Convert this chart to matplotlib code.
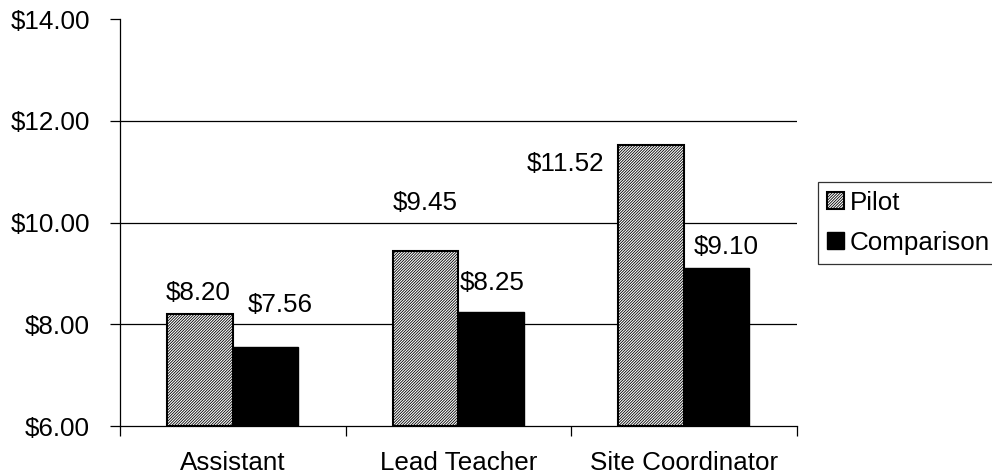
import matplotlib
matplotlib.use("Agg")
import matplotlib.pyplot as plt
import numpy as np

categories = ["Assistant", "Lead Teacher", "Site Coordinator"]
pilot = [8.20, 9.45, 11.52]
comparison = [7.56, 8.25, 9.10]
yticks = [6, 8, 10, 12, 14]

# label placement (style): (x offset from group centre, y position in data units)
pilot_lbl_pos = [(-0.154, 8.61), (-0.149, 10.38), (-0.524, 11.15)]
comp_lbl_pos = [(0.209, 8.38), (0.148, 8.81), (0.19, 9.52)]

FS = 18.7

plt.rcParams['font.family'] = ['Liberation Sans', 'DejaVu Sans']
plt.rcParams['hatch.linewidth'] = 0.6
plt.rcParams['hatch.color'] = '#555555'

fig = plt.figure(figsize=(9.92, 4.76), dpi=100)
ax = fig.add_axes([0.121, 0.105, 0.682, 0.855])

x = np.arange(len(categories))
w = 0.29
b1 = ax.bar(x - w/2, [p - 6 for p in pilot], w, bottom=6, facecolor='white',
            edgecolor='black', linewidth=1.5, hatch='/' * 12, label='Pilot', zorder=3)
b2 = ax.bar(x + w/2, [c - 6 for c in comparison], w, bottom=6, facecolor='black',
            edgecolor='black', linewidth=1.0, label='Comparison', zorder=3)

for i in range(len(categories)):
    dx, yy = pilot_lbl_pos[i]
    ax.text(x[i] + dx, yy, f"${pilot[i]:.2f}", ha='center', va='center', fontsize=FS)
    dx, yy = comp_lbl_pos[i]
    ax.text(x[i] + dx, yy, f"${comparison[i]:.2f}", ha='center', va='center', fontsize=FS)

ax.set_xlim(-0.5, 2.5)
ax.set_ylim(6, 14)
ax.set_yticks(yticks)
ax.set_yticklabels([f"${v:.2f}" for v in yticks], fontsize=FS)
for v in yticks[1:-1]:
    ax.axhline(v, color='black', linewidth=0.9, zorder=1)

ax.set_xticks(x)
ax.set_xticklabels(categories, fontsize=FS)
ax.tick_params(axis='x', which='major', length=0, pad=18)
ax.set_xticks([-0.5, 0.5, 1.5, 2.5], minor=True)
ax.tick_params(axis='x', which='minor', length=7, width=0.9, direction='out')
ax.tick_params(axis='y', length=7, width=0.9, direction='out', pad=14.5)

for s in ['top', 'right']:
    ax.spines[s].set_visible(False)
for s in ['left', 'bottom']:
    ax.spines[s].set_linewidth(0.9)

leg = fig.legend(handles=[b1, b2], loc='upper left', bbox_to_anchor=(0.825, 0.618),
                 bbox_transform=fig.transFigure, fontsize=FS, frameon=True,
                 fancybox=False, edgecolor='black', handlelength=0.65, handleheight=0.65,
                 handletextpad=0.2, borderpad=0.35, labelspacing=0.6, borderaxespad=0)
leg.get_frame().set_linewidth(0.9)

fig.savefig("out.png", dpi=100)
